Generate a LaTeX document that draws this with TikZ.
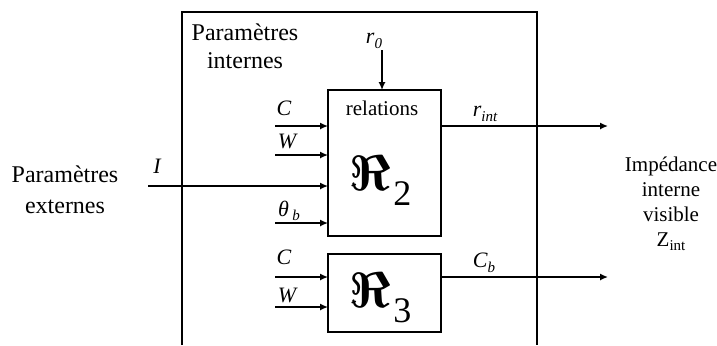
\documentclass[tikz,border=0pt]{standalone}
\usepackage{bm}
\usepackage{fontspec}
\setmainfont{Liberation Serif}
\usetikzlibrary{arrows.meta}
\newcommand\smallsub[1]{\raisebox{-0.45ex}{\fontsize{7.5}{8}\selectfont #1}}
\newcommand\bigfrak[1]{{\fontsize{29}{29}\selectfont$\bm{\Re}$}\hspace{1.5pt}\raisebox{-7.5pt}{\fontsize{18}{18}\selectfont #1}}
\begin{document}
\begin{tikzpicture}[x=0.5pt,y=-0.5pt,
  every node/.style={inner sep=0pt, outer sep=0pt},
  blk/.style={draw, line width=0.9pt, minimum width=56.5pt},
  arr/.style={line width=0.8pt, -{Latex[length=4pt,width=3.6pt]}},
  big/.style={font=\fontsize{12}{14}\selectfont, align=center},
  bigx/.style={font=\fontsize{12}{15.5}\selectfont, align=center},
  rbig/.style={font=\fontsize{10.5}{12.5}\selectfont, align=center},
  lbl/.style={font=\fontsize{10.5}{12}\selectfont},
  ilbl/.style={font=\fontsize{11}{12}\selectfont\itshape},
  reel/.style={anchor=base west}]
\useasboundingbox (0,0) rectangle (717,345);
% outer box (bottom cut off by picture edge)
\coordinate (oBL) at (182,345);
\coordinate (oTL) at (182,12);
\coordinate (oTR) at (537,12);
\coordinate (oBR) at (537,345);
\draw[line width=0.9pt] (oBL) -- (oTL) -- (oTR) -- (oBR);
% blocks
\node[blk, minimum height=73pt] (R2) at (384.5,163) {};
\node[blk, minimum height=39pt] (R3) at (384.5,293) {};
\node[lbl] (rel) at (382,108) {relations};
\node[reel] (frak2) at (349,190) {\bigfrak{2}};
\node[reel] (frak3) at (349,307) {\bigfrak{3}};
% texts
\node[big] (pint) at (245,46) {Paramètres\\internes};
\node[bigx] (pext) at (65,190) {Paramètres\\externes};
\node[rbig] (imp) at (671,204) {Impédance\\interne\\visible\\Z\smallsub{int}};
% input start points
\coordinate (sC2) at (275,126);
\coordinate (sW2) at (275,155);
\coordinate (sI) at (148,186);
\coordinate (sT2) at (275,223);
\coordinate (sC3) at (275,277);
\coordinate (sW3) at (275,307);
\coordinate (sR0) at (382,50);
\coordinate (eRint) at (608,126);
\coordinate (eCb) at (608,277);
% input arrows
\draw[arr] (sC2) -- (sC2 -| R2.west);
\draw[arr] (sW2) -- (sW2 -| R2.west);
\draw[arr] (sI) -- (sI -| R2.west);
\draw[arr] (sT2) -- (sT2 -| R2.west);
\draw[arr] (sC3) -- (sC3 -| R3.west);
\draw[arr] (sW3) -- (sW3 -| R3.west);
\draw[arr] (sR0) -- (sR0 |- R2.north);
% outputs
\draw[arr] (eRint -| R2.east) -- (eRint);
\draw[arr] (eCb -| R3.east) -- (eCb);
% labels
\node[ilbl] (lI) at (157,166) {I};
\node[ilbl] (lC2) at (284,108) {C};
\node[ilbl] (lW2) at (287,141) {W};
\node[ilbl] (lT) at (289,211) {θ\,\smallsub{b}};
\node[ilbl] (lC3) at (284,257) {C};
\node[ilbl] (lW3) at (287,295) {W};
\node[ilbl] (lr0) at (374,41) {r\smallsub{0}};
\node[ilbl] (lrint) at (485,114) {r\smallsub{int}};
\node[ilbl] (lCb) at (484,263) {C\smallsub{b}};
\end{tikzpicture}
\end{document}
